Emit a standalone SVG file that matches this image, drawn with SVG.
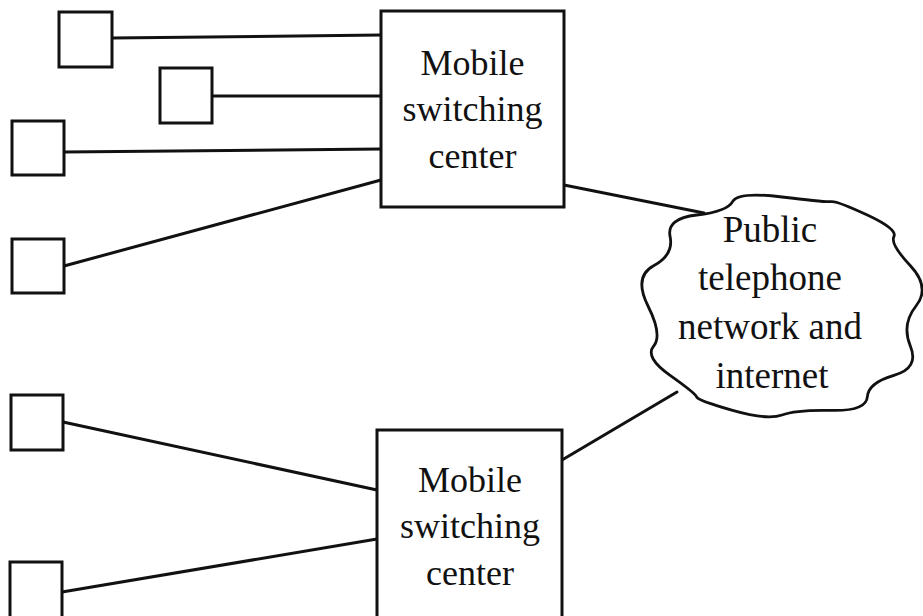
<svg xmlns="http://www.w3.org/2000/svg" width="923" height="616" viewBox="0 0 923 616">
  <style>
    .box { fill: #ffffff; stroke: #111; stroke-width: 3; }
    .conn line { stroke: #111; stroke-width: 3; stroke-linecap: round; }
    .cloud { fill: #ffffff; stroke: #111; stroke-width: 2.8; stroke-linejoin: round; }
    text { font-family: "Liberation Serif", "Times New Roman", serif; fill: #111; text-anchor: middle; }
    .lbl { font-size: 36px; }
    .clbl { font-size: 37px; }
  </style>
  <rect x="0" y="0" width="923" height="616" fill="#ffffff"/>

  <g id="connectors" class="conn">
    <line x1="112" y1="38" x2="381" y2="35"/>
    <line x1="212" y1="96" x2="381" y2="96"/>
    <line x1="64" y1="152" x2="381" y2="149"/>
    <line x1="64" y1="266" x2="381" y2="180"/>
    <line x1="63" y1="422" x2="377" y2="490"/>
    <line x1="62" y1="592" x2="377" y2="539"/>
    <line x1="564" y1="185" x2="704" y2="213"/>
    <line x1="562" y1="460" x2="677" y2="392"/>
  </g>

  <g id="terminal1"><rect class="box" x="59" y="12" width="53" height="55"/></g>
  <g id="terminal2"><rect class="box" x="160" y="68" width="52" height="55"/></g>
  <g id="terminal3"><rect class="box" x="12" y="121" width="52" height="54"/></g>
  <g id="terminal4"><rect class="box" x="12" y="239" width="52" height="54"/></g>
  <g id="terminal5"><rect class="box" x="11" y="395" width="52" height="55"/></g>
  <g id="terminal6"><rect class="box" x="10" y="562" width="52" height="60"/></g>

  <g id="msc1">
    <rect class="box" x="381" y="11" width="183" height="196"/>
    <text class="lbl" x="472.5" y="75">Mobile</text>
    <text class="lbl" x="472.5" y="121">switching</text>
    <text class="lbl" x="472.5" y="168">center</text>
  </g>

  <g id="msc2">
    <rect class="box" x="377" y="430" width="185" height="200"/>
    <text class="lbl" x="470" y="492">Mobile</text>
    <text class="lbl" x="470" y="538">switching</text>
    <text class="lbl" x="470" y="585">center</text>
  </g>

  <g id="network">
    <path class="cloud" d="M916,306 Q901.3,324.4 910.4,346.2 T893.9,375.4 T867.3,397 T831.4,410.4 T782,415 T732.6,410.4 T696.7,397 T670.1,375.4 T653.6,346.2 T648,306 T653.6,265.8 T670.1,236.6 T696.7,215 T732.6,201.6 T782,197 T831.4,201.6 T867.3,215 T893.9,236.6 T910.4,265.8 T916,306 Z"/>
    <text class="clbl" x="770" y="242">Public</text>
    <text class="clbl" x="770" y="290">telephone</text>
    <text class="clbl" x="770" y="339">network and</text>
    <text class="clbl" x="772" y="388">internet</text>
  </g>
</svg>
